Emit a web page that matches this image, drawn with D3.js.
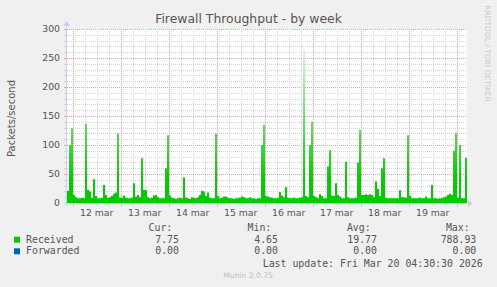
<!DOCTYPE html>
<html><head><meta charset="utf-8">
<script src="https://cdn.jsdelivr.net/npm/d3@7"></script>
<style>body{margin:0;background:#f0f0f0;}svg{display:block}</style>
</head><body><svg id="c" width="497" height="287"></svg>
<script>
// ---- data ----
const startTime = new Date(2026, 2, 11, 21, 10); // first hourly sample
const stepHours = 1;
const received = [
21,100,129,14,10,8,8,9,8,136,
23,20,9,41,12,8,8,9,31,14,
9,10,12,16,18,120,9,9,13,9,
8,8,9,34,11,14,10,77,23,22,
10,8,9,13,14,10,8,8,8,60,
117,13,9,8,7,8,9,8,44,9,
8,7,10,9,8,10,14,21,20,12,
18,9,8,8,120,12,8,9,11,11,
9,8,8,7,8,8,9,11,10,8,
8,10,8,8,7,8,8,100,135,12,
11,10,9,8,8,9,19,13,10,27,
9,8,8,9,8,8,9,10,265,12,
10,100,140,12,10,8,15,12,8,8,
63,91,13,12,34,14,11,8,8,71,
10,8,8,8,9,70,126,14,14,15,
14,15,14,10,37,24,12,60,77,9,
8,8,8,8,8,8,22,10,10,9,
117,12,8,8,8,8,9,8,8,11,
8,8,31,8,8,7,8,8,10,11,
14,16,14,90,121,9,100,8,8,78
];
const yTicks = [0, 50, 100, 150, 200, 250, 300];
const yMinorStep = 10;
const dayLabels = ["12 mar","13 mar","14 mar","15 mar","16 mar","17 mar","18 mar","19 mar"];
const dayDates = [12,13,14,15,16,17,18,19];
const seriesNames = ["Received", "Forwarded"];
const seriesColors = ["#00cc00", "#0066b3"];
const statCur = ["7.75", "0.00"];
const statMin = ["4.65", "0.00"];
const statAvg = ["19.77", "0.00"];
const statMax = ["788.93", "0.00"];
const title = "Firewall Throughput - by week";
const yLabel = "Packets/second";
const lastUpdate = "Last update: Fri Mar 20 04:30:30 2026";
const version = "Munin 2.0.75";
const sideText = "RRDTOOL / TOBI OETIKER";

// ---- layout ----
const L = 67, R = 467, T = 29, B = 203;
const svg = d3.select("#c");
const endTime = d3.timeHour.offset(startTime, received.length * stepHours);
const x = d3.scaleTime().domain([startTime, endTime]).range([L, R]);
const y = d3.scaleLinear().domain([0, 300]).range([B, T]);

svg.append("rect").attr("width", 497).attr("height", 287).attr("fill", "#f0f0f0");
svg.append("rect").attr("x", L).attr("y", T).attr("width", R - L).attr("height", B - T).attr("fill", "#ffffff");

const minorCol = "#d4d4d4", majorCol = "#eaa0a0";
const g = svg.append("g").attr("shape-rendering", "crispEdges");

// horizontal grid
const minorY = d3.range(0, 301, yMinorStep).filter(v => v % 50 !== 0);
minorY.forEach(v => {
  const yy = Math.round(y(v)) + 0.5;
  g.append("line").attr("x1", L).attr("x2", R).attr("y1", yy).attr("y2", yy)
    .attr("stroke", minorCol).attr("stroke-dasharray", "1,1");
  g.append("line").attr("x1", L - 3).attr("x2", L).attr("y1", yy).attr("y2", yy).attr("stroke", minorCol);
});
yTicks.forEach(v => {
  const yy = Math.round(y(v)) + 0.5;
  if (v > 0) g.append("line").attr("x1", L).attr("x2", R).attr("y1", yy).attr("y2", yy)
    .attr("stroke", majorCol).attr("stroke-dasharray", "1,1");
  g.append("line").attr("x1", L - 3).attr("x2", L).attr("y1", yy).attr("y2", yy).attr("stroke", majorCol);
});

// vertical grid
const sixH = d3.timeHour.every(6).range(startTime, endTime).filter(d => d.getHours() !== 0);
sixH.forEach(d => {
  const xx = Math.round(x(d)) + 0.5;
  g.append("line").attr("x1", xx).attr("x2", xx).attr("y1", T).attr("y2", B)
    .attr("stroke", minorCol).attr("stroke-dasharray", "1,1");
  g.append("line").attr("x1", xx).attr("x2", xx).attr("y1", B).attr("y2", B + 3).attr("stroke", minorCol);
});
d3.timeDay.range(startTime, endTime).forEach(d => {
  const xx = Math.round(x(d)) + 0.5;
  g.append("line").attr("x1", xx).attr("x2", xx).attr("y1", T).attr("y2", B)
    .attr("stroke", majorCol).attr("stroke-dasharray", "1,1");
  g.append("line").attr("x1", xx).attr("x2", xx).attr("y1", B).attr("y2", B + 3).attr("stroke", majorCol);
});

// gradient
const defs = svg.append("defs");
const grad = defs.append("linearGradient").attr("id", "gr").attr("gradientUnits", "userSpaceOnUse")
  .attr("x1", 0).attr("x2", 0).attr("y1", y(40)).attr("y2", y(290));
grad.append("stop").attr("offset", 0).attr("stop-color", "#00cc00");
grad.append("stop").attr("offset", 0.4).attr("stop-color", "#66dd66");
grad.append("stop").attr("offset", 1).attr("stop-color", "#f0fff0");

// area
const pts = received.map((v, i) => ({t: d3.timeHour.offset(startTime, i * stepHours), v}));
pts.push({t: endTime, v: received[received.length - 1]});
const area = d3.area().curve(d3.curveStepAfter).x(d => x(d.t)).y0(y(0)).y1(d => y(d.v));
svg.append("path").datum(pts).attr("d", area).attr("fill", "url(#gr)");

// axes
const axCol = "#c8cff4";
svg.append("line").attr("x1", L - 3).attr("x2", R + 1).attr("y1", B + 0.5).attr("y2", B + 0.5).attr("stroke", axCol).attr("shape-rendering", "crispEdges");
svg.append("line").attr("x1", L - 0.5).attr("x2", L - 0.5).attr("y1", B + 3).attr("y2", T - 3).attr("stroke", axCol).attr("shape-rendering", "crispEdges");
svg.append("path").attr("d", `M${R + 1},${B - 3} L${R + 6},${B + 0.5} L${R + 1},${B + 4} Z`).attr("fill", axCol);
svg.append("path").attr("d", `M${L - 4},${T - 3} L${L - 0.5},${T - 8} L${L + 3},${T - 3} Z`).attr("fill", axCol);

// tick labels
const txt = "#555";
svg.append("g").selectAll("text").data(yTicks).join("text")
  .attr("x", 60).attr("y", d => y(d)).attr("dy", "0.36em").attr("text-anchor", "end")
  .attr("font-family", "DejaVu Sans").attr("font-size", "9.3px").attr("fill", txt).text(d => d);
svg.append("g").selectAll("text").data(dayDates).join("text")
  .attr("x", d => x(new Date(2026, 2, d, 12))).attr("y", 215.7).attr("text-anchor", "middle")
  .attr("font-family", "DejaVu Sans").attr("font-size", "9.3px").attr("fill", txt)
  .text((d, i) => dayLabels[i]);

// title & labels
svg.append("text").attr("x", 248.5).attr("y", 23.3).attr("text-anchor", "middle")
  .attr("font-family", "DejaVu Sans").attr("font-size", "12.4px").attr("fill", txt).text(title);
svg.append("text").attr("transform", "translate(14.5,118.5) rotate(-90)").attr("text-anchor", "middle")
  .attr("font-family", "DejaVu Sans").attr("font-size", "10px").attr("fill", txt).text(yLabel);
svg.append("text").attr("transform", "translate(484.5,53.5) rotate(90)").attr("text-anchor", "middle")
  .attr("font-family", "DejaVu Sans").attr("font-size", "7.5px").attr("fill", "#cccccc").text(sideText);

// legend
const mono = {"font-family": "DejaVu Sans Mono", "font-size": "9.9px", "fill": txt};
function mt(xp, yp, s, anchor) {
  const t = svg.append("text").attr("x", xp).attr("y", yp).attr("text-anchor", anchor || "start").text(s);
  Object.entries(mono).forEach(([k, v]) => t.attr(k, v));
  return t;
}
mt(172.3, 231, "Cur:", "end");
mt(271.3, 231, "Min:", "end");
mt(370.7, 231, "Avg:", "end");
mt(469.7, 231, "Max:", "end");
const rowY = [242.7, 254.3];
seriesNames.forEach((n, i) => {
  svg.append("rect").attr("x", 14).attr("y", rowY[i] - 6).attr("width", 6).attr("height", 6).attr("fill", seriesColors[i]);
  mt(26, rowY[i], n);
  mt(179, rowY[i], statCur[i], "end");
  mt(278, rowY[i], statMin[i], "end");
  mt(377, rowY[i], statAvg[i], "end");
  mt(476.3, rowY[i], statMax[i], "end");
});
mt(482.7, 266.7, lastUpdate, "end");
svg.append("text").attr("x", 248).attr("y", 278).attr("text-anchor", "middle")
  .attr("font-family", "DejaVu Sans").attr("font-size", "7.6px").attr("fill", "#c0c0c0").text(version);
</script></body></html>
